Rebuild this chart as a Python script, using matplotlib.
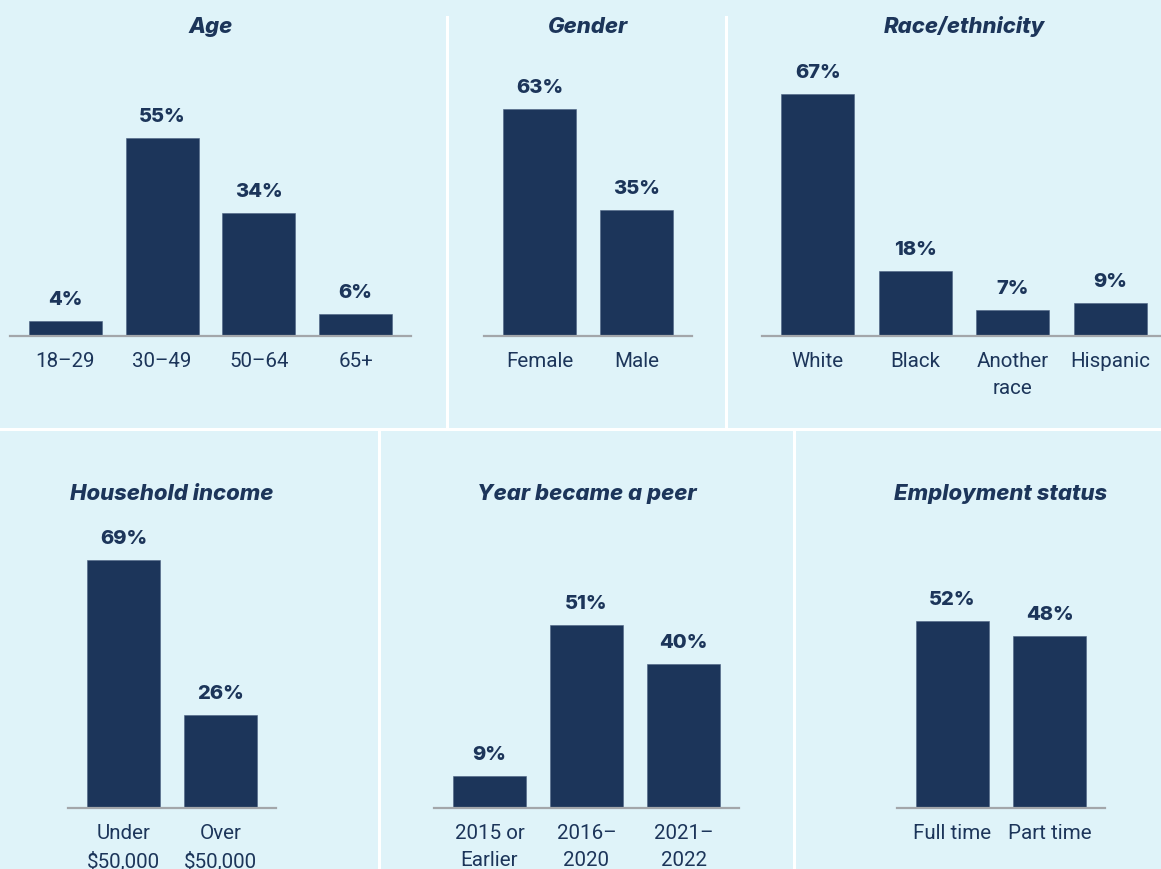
import matplotlib
matplotlib.use("Agg")
import matplotlib.pyplot as plt
from matplotlib.lines import Line2D

# ---------------- data ----------------
age_labels = ["18–29", "30–49", "50–64", "65+"]
age_values = [4, 55, 34, 6]

gender_labels = ["Female", "Male"]
gender_values = [63, 35]

race_labels = ["White", "Black", "Another\nrace", "Hispanic"]
race_values = [67, 18, 7, 9]

income_labels = ["Under\n$50,000", "Over\n$50,000"]
income_values = [69, 26]

year_labels = ["2015 or\nEarlier", "2016–\n2020", "2021–\n2022"]
year_values = [9, 51, 40]

employment_labels = ["Full time", "Part time"]
employment_values = [52, 48]

titles = ["Age", "Gender", "Race/ethnicity",
          "Household income", "Year became a peer", "Employment status"]

# ---------------- style ----------------
W, H = 1161, 869
BG = "#dff3f9"
NAVY = "#1c355a"
AXIS = "#a3a6aa"
plt.rcParams["font.family"] = ["Roboto", "DejaVu Sans"]
VAL_FONT = ["Inter", "DejaVu Sans"]
TITLE_FONT = ["Inter", "DejaVu Sans"]

fig = plt.figure(figsize=(W / 100, H / 100), dpi=100)
fig.patch.set_facecolor(BG)

PX = 3.6  # pixels per percentage point
YMAX = 80

def fx(x):
    return x / W

def fy(y):
    return 1 - y / H

# panel layout in pixels: axis left, axis right, baseline y, title baseline y
panels = [
    (age_labels, age_values, 10, 411, 335.6, 33),
    (gender_labels, gender_values, 484, 692, 335.6, 33),
    (race_labels, race_values, 762, 1166, 335.6, 33),
    (income_labels, income_values, 68, 276, 808.3, 500),
    (year_labels, year_values, 434, 739, 808.3, 500),
    (employment_labels, employment_values, 897, 1105, 808.3, 500),
]

BAR_W = 73 / 97
MARGIN = 0.5 * BAR_W + 19 / 97

for (labels, values, x0, x1, base, tbase), title in zip(panels, titles):
    n = len(values)
    top = base - PX * YMAX
    ax = fig.add_axes([fx(x0), fy(base), fx(x1) - fx(x0), (base - top) / H])
    ax.set_facecolor("none")
    ax.bar(range(n), values, width=BAR_W, color=NAVY, edgecolor="#4b6282",
           linewidth=0.4, zorder=2)
    ax.set_xlim(-MARGIN, n - 1 + MARGIN)
    ax.set_ylim(0, YMAX)
    for s in ["top", "right", "left"]:
        ax.spines[s].set_visible(False)
    ax.spines["bottom"].set_color(AXIS)
    ax.spines["bottom"].set_linewidth(1.6)
    ax.spines["bottom"].set_zorder(3)
    ax.set_yticks([])
    ax.set_xticks(range(n))
    ax.set_xticklabels(labels, fontsize=14.8, color=NAVY, linespacing=1.53)
    ax.tick_params(axis="x", length=0, pad=11.5)
    for i, v in enumerate(values):
        ax.annotate(f"{v}%", xy=(i, v), xytext=(0, 11.5),
                    textcoords="offset points", ha="center", va="baseline",
                    fontsize=14.5, fontweight=800, color=NAVY,
                    family=VAL_FONT)
    cx = (x0 + x1) / 2
    fig.text(fx(cx), fy(tbase), title, ha="center", va="baseline",
             fontsize=15.9, fontweight=800, fontstyle="italic", color=NAVY,
             family=TITLE_FONT)

# white dividers
lw = 3 * 0.72
fig.add_artist(Line2D([0, 1], [fy(428.7), fy(428.7)], color="white", lw=lw,
                      transform=fig.transFigure))
for x in (447.5, 726):
    fig.add_artist(Line2D([fx(x), fx(x)], [fy(17), fy(428.7)], color="white",
                          lw=lw, transform=fig.transFigure))
for x in (379.3, 793.5):
    fig.add_artist(Line2D([fx(x), fx(x)], [fy(428.7), 0], color="white",
                          lw=lw, transform=fig.transFigure))

fig.savefig("out.png", dpi=100, facecolor=BG)
